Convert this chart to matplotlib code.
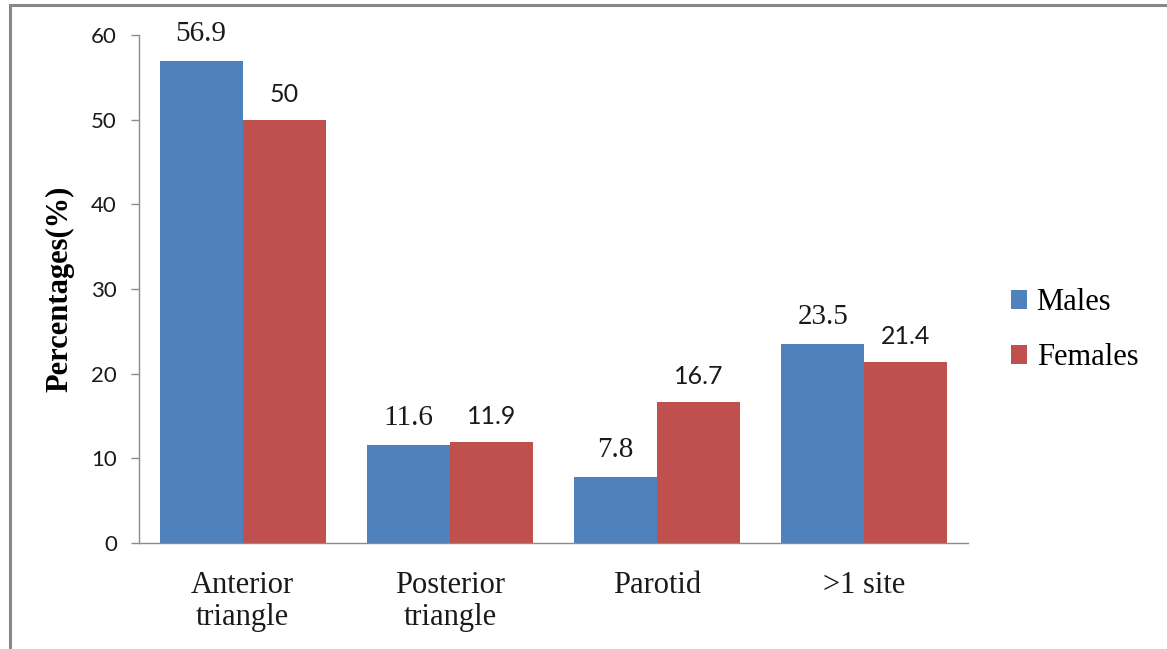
import numpy as np
import matplotlib.pyplot as plt
from matplotlib.lines import Line2D

# Site distribution by sex
sites = ['Anterior\ntriangle', 'Posterior\ntriangle', 'Parotid', '>1 site']
males = [56.9, 11.6, 7.8, 23.5]
females = [50, 11.9, 16.7, 21.4]
yticks = [0, 10, 20, 30, 40, 50, 60]

blue = '#4F81BD'
red = '#C0504D'
axis_grey = '#8C8C8C'

fig = plt.figure(figsize=(11.67, 6.49), dpi=100)
ax = fig.add_axes([139 / 1167, 1 - 543 / 649, (968 - 139) / 1167, (543 - 35) / 649])

x = np.arange(len(sites))
w = 0.4
b1 = ax.bar(x - w / 2, males, w, color=blue, label='Males')
b2 = ax.bar(x + w / 2, females, w, color=red, label='Females')

# value labels: males in serif, females in sans
for rect, v in zip(b1, males):
    ax.annotate(f'{v:g}', (rect.get_x() + rect.get_width() / 2, v),
                xytext=(0, 10), textcoords='offset points', ha='center', va='bottom',
                fontsize=21, family='Liberation Serif', color='#1a1a1a')
for rect, v in zip(b2, females):
    ax.annotate(f'{v:g}', (rect.get_x() + rect.get_width() / 2, v),
                xytext=(0, 10), textcoords='offset points', ha='center', va='bottom',
                fontsize=18, family='Lato', color='#1a1a1a')

ax.set_xlim(-0.5, len(sites) - 0.5)
ax.set_ylim(0, 60)
ax.set_yticks(yticks)
ax.set_yticklabels([str(t) for t in yticks], fontsize=16, family='Lato', color='#1a1a1a')
ax.set_xticks(x)
ax.set_xticklabels(sites, fontsize=22, family='Liberation Serif', linespacing=1.15, color='#1a1a1a')
ax.tick_params(axis='x', length=0, pad=20)
ax.tick_params(axis='y', length=6, width=1, color=axis_grey, direction='out', pad=10)

for s in ['top', 'right']:
    ax.spines[s].set_visible(False)
for s in ['left', 'bottom']:
    ax.spines[s].set_color(axis_grey)
    ax.spines[s].set_linewidth(1)

ax.set_ylabel('Percentages(%)', fontsize=22, family='Liberation Serif',
              fontweight='bold', labelpad=12)

fig.legend(handles=[b1, b2], loc='center left', bbox_to_anchor=(0.866, 0.491),
           frameon=False, prop={'family': 'Liberation Serif', 'size': 22},
           handlelength=0.55, handleheight=0.55, handletextpad=0.3, labelspacing=0.85,
           borderpad=0, borderaxespad=0)

# outer frame (left and top edges)
fig.add_artist(Line2D([9.5 / 1167, 9.5 / 1167], [0, 1 - 5 / 649], color='#888888', lw=2.2))
fig.add_artist(Line2D([9.5 / 1167, 1], [1 - 5 / 649, 1 - 5 / 649], color='#888888', lw=2.2))

fig.savefig('out.png', dpi=100)
